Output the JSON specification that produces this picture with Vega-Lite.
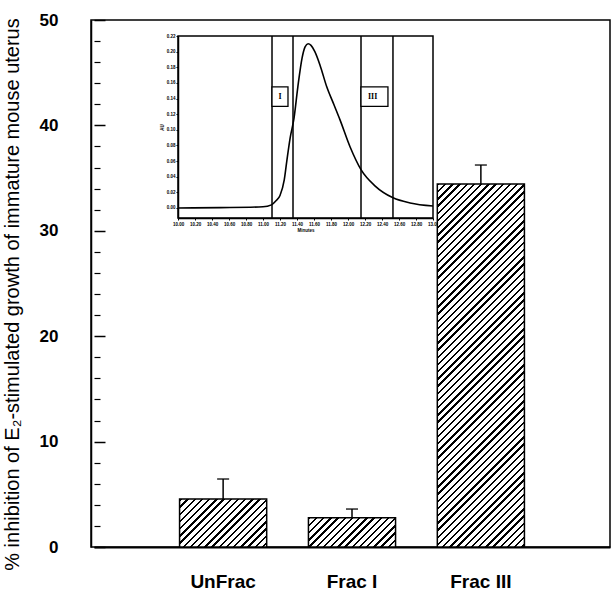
{
  "$schema": "https://vega.github.io/schema/vega-lite/v6.json",
  "width": 519,
  "height": 527,
  "autosize": "none",
  "padding": {"left": 91, "top": 20, "right": 2, "bottom": 51},
  "config": {
    "font": "Liberation Sans",
    "view": {"stroke": "black", "strokeWidth": 1.5},
    "axis": {"grid": false, "domainColor": "black", "tickColor": "black", "labelColor": "black", "titleColor": "black", "labelOverlap": false}
  },
  "layer": [
    {
      "data": {"values": [
        {"group": "UnFrac", "value": 4.55, "upper": 6.45},
        {"group": "Frac I", "value": 2.78, "upper": 3.6},
        {"group": "Frac III", "value": 34.45, "upper": 36.24}
      ]},
      "layer": [
        {
          "transform": [{"filter": "datum.group === 'UnFrac'"}],
          "mark": {"type": "bar", "stroke": "black", "strokeWidth": 1.5, "fill": {"gradient": "linear", "x1": 0, "y1": 0, "x2": 1.2686, "y2": 0.6985, "stops": [
            {"offset":0,"color":"#000"},{"offset":0.016667,"color":"#000"},{"offset":0.016667,"color":"#fff"},
            {"offset":0.05,"color":"#fff"},{"offset":0.05,"color":"#000"},{"offset":0.066667,"color":"#000"},{"offset":0.066667,"color":"#fff"},
            {"offset":0.1,"color":"#fff"},{"offset":0.1,"color":"#000"},{"offset":0.116667,"color":"#000"},{"offset":0.116667,"color":"#fff"},
            {"offset":0.15,"color":"#fff"},{"offset":0.15,"color":"#000"},{"offset":0.166667,"color":"#000"},{"offset":0.166667,"color":"#fff"},
            {"offset":0.2,"color":"#fff"},{"offset":0.2,"color":"#000"},{"offset":0.216667,"color":"#000"},{"offset":0.216667,"color":"#fff"},
            {"offset":0.25,"color":"#fff"},{"offset":0.25,"color":"#000"},{"offset":0.266667,"color":"#000"},{"offset":0.266667,"color":"#fff"},
            {"offset":0.3,"color":"#fff"},{"offset":0.3,"color":"#000"},{"offset":0.316667,"color":"#000"},{"offset":0.316667,"color":"#fff"},
            {"offset":0.35,"color":"#fff"},{"offset":0.35,"color":"#000"},{"offset":0.366667,"color":"#000"},{"offset":0.366667,"color":"#fff"},
            {"offset":0.4,"color":"#fff"},{"offset":0.4,"color":"#000"},{"offset":0.416667,"color":"#000"},{"offset":0.416667,"color":"#fff"},
            {"offset":0.45,"color":"#fff"},{"offset":0.45,"color":"#000"},{"offset":0.466667,"color":"#000"},{"offset":0.466667,"color":"#fff"},
            {"offset":0.5,"color":"#fff"},{"offset":0.5,"color":"#000"},{"offset":0.516667,"color":"#000"},{"offset":0.516667,"color":"#fff"},
            {"offset":0.55,"color":"#fff"},{"offset":0.55,"color":"#000"},{"offset":0.566667,"color":"#000"},{"offset":0.566667,"color":"#fff"},
            {"offset":0.6,"color":"#fff"},{"offset":0.6,"color":"#000"},{"offset":0.616667,"color":"#000"},{"offset":0.616667,"color":"#fff"},
            {"offset":0.65,"color":"#fff"},{"offset":0.65,"color":"#000"},{"offset":0.666667,"color":"#000"},{"offset":0.666667,"color":"#fff"},
            {"offset":0.7,"color":"#fff"},{"offset":0.7,"color":"#000"},{"offset":0.716667,"color":"#000"},{"offset":0.716667,"color":"#fff"},
            {"offset":0.75,"color":"#fff"},{"offset":0.75,"color":"#000"},{"offset":0.766667,"color":"#000"},{"offset":0.766667,"color":"#fff"},
            {"offset":0.8,"color":"#fff"},{"offset":0.8,"color":"#000"},{"offset":0.816667,"color":"#000"},{"offset":0.816667,"color":"#fff"},
            {"offset":0.85,"color":"#fff"},{"offset":0.85,"color":"#000"},{"offset":0.866667,"color":"#000"},{"offset":0.866667,"color":"#fff"},
            {"offset":0.9,"color":"#fff"},{"offset":0.9,"color":"#000"},{"offset":0.916667,"color":"#000"},{"offset":0.916667,"color":"#fff"},
            {"offset":0.95,"color":"#fff"},{"offset":0.95,"color":"#000"},{"offset":0.966667,"color":"#000"},{"offset":0.966667,"color":"#fff"},
            {"offset":1,"color":"#fff"}
          ]}},
          "encoding": {
            "x": {"field": "group", "type": "nominal", "title": null,
              "scale": {"domain": ["UnFrac", "Frac I", "Frac III"], "range": [3, 519], "paddingInner": 0.324, "paddingOuter": 0.664},
              "axis": {"orient": "bottom", "ticks": false, "domainWidth": 2, "labelFontSize": 19, "labelFontWeight": "bold", "labelPadding": 25, "labelAngle": 0}},
            "y": {"field": "value", "type": "quantitative",
              "title": "% inhibition of E₂-stimulated growth of immature mouse uterus",
              "scale": {"domain": [0, 50], "nice": false, "zero": true},
              "axis": {"orient": "left", "values": [0,2,4,6,8,10,12,14,16,18,20,22,24,26,28,30,32,34,36,38,40,42,44,46,48,50], "tickCount": 100, "format": "d",
                "labelExpr": "datum.value % 10 === 0 ? datum.label : ''",
                "ticks": false, "domainWidth": 1.5,
                "grid": true, "gridColor": "black", "gridOpacity": 1,
                "gridWidth": {"condition": {"test": "datum.value % 10 === 0", "value": 1.5}, "value": 1.2},
                "gridDash": {"condition": {"test": "datum.value % 10 === 0", "value": [11, 1200]}, "value": [6, 1200]},
                "labelFontSize": 17, "labelFontWeight": "bold", "labelPadding": 33,
                "titleFontSize": 20, "titleFontWeight": "normal", "titleX": -79, "titleY": 274, "titleAngle": -90, "titleBaseline": "middle", "titleAlign": "center"}}
          }
        },
        {
          "transform": [{"filter": "datum.group === 'Frac I'"}],
          "mark": {"type": "bar", "stroke": "black", "strokeWidth": 1.5, "fill": {"gradient": "linear", "x1": 0, "y1": 0, "x2": 1.4852, "y2": 0.4996, "stops": [
            {"offset":0,"color":"#000"},{"offset":0.016667,"color":"#000"},{"offset":0.016667,"color":"#fff"},
            {"offset":0.05,"color":"#fff"},{"offset":0.05,"color":"#000"},{"offset":0.066667,"color":"#000"},{"offset":0.066667,"color":"#fff"},
            {"offset":0.1,"color":"#fff"},{"offset":0.1,"color":"#000"},{"offset":0.116667,"color":"#000"},{"offset":0.116667,"color":"#fff"},
            {"offset":0.15,"color":"#fff"},{"offset":0.15,"color":"#000"},{"offset":0.166667,"color":"#000"},{"offset":0.166667,"color":"#fff"},
            {"offset":0.2,"color":"#fff"},{"offset":0.2,"color":"#000"},{"offset":0.216667,"color":"#000"},{"offset":0.216667,"color":"#fff"},
            {"offset":0.25,"color":"#fff"},{"offset":0.25,"color":"#000"},{"offset":0.266667,"color":"#000"},{"offset":0.266667,"color":"#fff"},
            {"offset":0.3,"color":"#fff"},{"offset":0.3,"color":"#000"},{"offset":0.316667,"color":"#000"},{"offset":0.316667,"color":"#fff"},
            {"offset":0.35,"color":"#fff"},{"offset":0.35,"color":"#000"},{"offset":0.366667,"color":"#000"},{"offset":0.366667,"color":"#fff"},
            {"offset":0.4,"color":"#fff"},{"offset":0.4,"color":"#000"},{"offset":0.416667,"color":"#000"},{"offset":0.416667,"color":"#fff"},
            {"offset":0.45,"color":"#fff"},{"offset":0.45,"color":"#000"},{"offset":0.466667,"color":"#000"},{"offset":0.466667,"color":"#fff"},
            {"offset":0.5,"color":"#fff"},{"offset":0.5,"color":"#000"},{"offset":0.516667,"color":"#000"},{"offset":0.516667,"color":"#fff"},
            {"offset":0.55,"color":"#fff"},{"offset":0.55,"color":"#000"},{"offset":0.566667,"color":"#000"},{"offset":0.566667,"color":"#fff"},
            {"offset":0.6,"color":"#fff"},{"offset":0.6,"color":"#000"},{"offset":0.616667,"color":"#000"},{"offset":0.616667,"color":"#fff"},
            {"offset":0.65,"color":"#fff"},{"offset":0.65,"color":"#000"},{"offset":0.666667,"color":"#000"},{"offset":0.666667,"color":"#fff"},
            {"offset":0.7,"color":"#fff"},{"offset":0.7,"color":"#000"},{"offset":0.716667,"color":"#000"},{"offset":0.716667,"color":"#fff"},
            {"offset":0.75,"color":"#fff"},{"offset":0.75,"color":"#000"},{"offset":0.766667,"color":"#000"},{"offset":0.766667,"color":"#fff"},
            {"offset":0.8,"color":"#fff"},{"offset":0.8,"color":"#000"},{"offset":0.816667,"color":"#000"},{"offset":0.816667,"color":"#fff"},
            {"offset":0.85,"color":"#fff"},{"offset":0.85,"color":"#000"},{"offset":0.866667,"color":"#000"},{"offset":0.866667,"color":"#fff"},
            {"offset":0.9,"color":"#fff"},{"offset":0.9,"color":"#000"},{"offset":0.916667,"color":"#000"},{"offset":0.916667,"color":"#fff"},
            {"offset":0.95,"color":"#fff"},{"offset":0.95,"color":"#000"},{"offset":0.966667,"color":"#000"},{"offset":0.966667,"color":"#fff"},
            {"offset":1,"color":"#fff"}
          ]}},
          "encoding": {
            "x": {"field": "group", "type": "nominal", "title": null},
            "y": {"field": "value", "type": "quantitative"}
          }
        },
        {
          "transform": [{"filter": "datum.group === 'Frac III'"}],
          "mark": {"type": "bar", "stroke": "black", "strokeWidth": 1.5, "fill": {"gradient": "linear", "x1": 0, "y1": 0, "x2": 0.28786, "y2": 1.2, "stops": [
            {"offset":0,"color":"#000"},{"offset":0.005208,"color":"#000"},{"offset":0.005208,"color":"#fff"},
            {"offset":0.015625,"color":"#fff"},{"offset":0.015625,"color":"#000"},{"offset":0.020833,"color":"#000"},{"offset":0.020833,"color":"#fff"},
            {"offset":0.03125,"color":"#fff"},{"offset":0.03125,"color":"#000"},{"offset":0.036458,"color":"#000"},{"offset":0.036458,"color":"#fff"},
            {"offset":0.046875,"color":"#fff"},{"offset":0.046875,"color":"#000"},{"offset":0.052083,"color":"#000"},{"offset":0.052083,"color":"#fff"},
            {"offset":0.0625,"color":"#fff"},{"offset":0.0625,"color":"#000"},{"offset":0.067708,"color":"#000"},{"offset":0.067708,"color":"#fff"},
            {"offset":0.078125,"color":"#fff"},{"offset":0.078125,"color":"#000"},{"offset":0.083333,"color":"#000"},{"offset":0.083333,"color":"#fff"},
            {"offset":0.09375,"color":"#fff"},{"offset":0.09375,"color":"#000"},{"offset":0.098958,"color":"#000"},{"offset":0.098958,"color":"#fff"},
            {"offset":0.109375,"color":"#fff"},{"offset":0.109375,"color":"#000"},{"offset":0.114583,"color":"#000"},{"offset":0.114583,"color":"#fff"},
            {"offset":0.125,"color":"#fff"},{"offset":0.125,"color":"#000"},{"offset":0.130208,"color":"#000"},{"offset":0.130208,"color":"#fff"},
            {"offset":0.140625,"color":"#fff"},{"offset":0.140625,"color":"#000"},{"offset":0.145833,"color":"#000"},{"offset":0.145833,"color":"#fff"},
            {"offset":0.15625,"color":"#fff"},{"offset":0.15625,"color":"#000"},{"offset":0.161458,"color":"#000"},{"offset":0.161458,"color":"#fff"},
            {"offset":0.171875,"color":"#fff"},{"offset":0.171875,"color":"#000"},{"offset":0.177083,"color":"#000"},{"offset":0.177083,"color":"#fff"},
            {"offset":0.1875,"color":"#fff"},{"offset":0.1875,"color":"#000"},{"offset":0.192708,"color":"#000"},{"offset":0.192708,"color":"#fff"},
            {"offset":0.203125,"color":"#fff"},{"offset":0.203125,"color":"#000"},{"offset":0.208333,"color":"#000"},{"offset":0.208333,"color":"#fff"},
            {"offset":0.21875,"color":"#fff"},{"offset":0.21875,"color":"#000"},{"offset":0.223958,"color":"#000"},{"offset":0.223958,"color":"#fff"},
            {"offset":0.234375,"color":"#fff"},{"offset":0.234375,"color":"#000"},{"offset":0.239583,"color":"#000"},{"offset":0.239583,"color":"#fff"},
            {"offset":0.25,"color":"#fff"},{"offset":0.25,"color":"#000"},{"offset":0.255208,"color":"#000"},{"offset":0.255208,"color":"#fff"},
            {"offset":0.265625,"color":"#fff"},{"offset":0.265625,"color":"#000"},{"offset":0.270833,"color":"#000"},{"offset":0.270833,"color":"#fff"},
            {"offset":0.28125,"color":"#fff"},{"offset":0.28125,"color":"#000"},{"offset":0.286458,"color":"#000"},{"offset":0.286458,"color":"#fff"},
            {"offset":0.296875,"color":"#fff"},{"offset":0.296875,"color":"#000"},{"offset":0.302083,"color":"#000"},{"offset":0.302083,"color":"#fff"},
            {"offset":0.3125,"color":"#fff"},{"offset":0.3125,"color":"#000"},{"offset":0.317708,"color":"#000"},{"offset":0.317708,"color":"#fff"},
            {"offset":0.328125,"color":"#fff"},{"offset":0.328125,"color":"#000"},{"offset":0.333333,"color":"#000"},{"offset":0.333333,"color":"#fff"},
            {"offset":0.34375,"color":"#fff"},{"offset":0.34375,"color":"#000"},{"offset":0.348958,"color":"#000"},{"offset":0.348958,"color":"#fff"},
            {"offset":0.359375,"color":"#fff"},{"offset":0.359375,"color":"#000"},{"offset":0.364583,"color":"#000"},{"offset":0.364583,"color":"#fff"},
            {"offset":0.375,"color":"#fff"},{"offset":0.375,"color":"#000"},{"offset":0.380208,"color":"#000"},{"offset":0.380208,"color":"#fff"},
            {"offset":0.390625,"color":"#fff"},{"offset":0.390625,"color":"#000"},{"offset":0.395833,"color":"#000"},{"offset":0.395833,"color":"#fff"},
            {"offset":0.40625,"color":"#fff"},{"offset":0.40625,"color":"#000"},{"offset":0.411458,"color":"#000"},{"offset":0.411458,"color":"#fff"},
            {"offset":0.421875,"color":"#fff"},{"offset":0.421875,"color":"#000"},{"offset":0.427083,"color":"#000"},{"offset":0.427083,"color":"#fff"},
            {"offset":0.4375,"color":"#fff"},{"offset":0.4375,"color":"#000"},{"offset":0.442708,"color":"#000"},{"offset":0.442708,"color":"#fff"},
            {"offset":0.453125,"color":"#fff"},{"offset":0.453125,"color":"#000"},{"offset":0.458333,"color":"#000"},{"offset":0.458333,"color":"#fff"},
            {"offset":0.46875,"color":"#fff"},{"offset":0.46875,"color":"#000"},{"offset":0.473958,"color":"#000"},{"offset":0.473958,"color":"#fff"},
            {"offset":0.484375,"color":"#fff"},{"offset":0.484375,"color":"#000"},{"offset":0.489583,"color":"#000"},{"offset":0.489583,"color":"#fff"},
            {"offset":0.5,"color":"#fff"},{"offset":0.5,"color":"#000"},{"offset":0.505208,"color":"#000"},{"offset":0.505208,"color":"#fff"},
            {"offset":0.515625,"color":"#fff"},{"offset":0.515625,"color":"#000"},{"offset":0.520833,"color":"#000"},{"offset":0.520833,"color":"#fff"},
            {"offset":0.53125,"color":"#fff"},{"offset":0.53125,"color":"#000"},{"offset":0.536458,"color":"#000"},{"offset":0.536458,"color":"#fff"},
            {"offset":0.546875,"color":"#fff"},{"offset":0.546875,"color":"#000"},{"offset":0.552083,"color":"#000"},{"offset":0.552083,"color":"#fff"},
            {"offset":0.5625,"color":"#fff"},{"offset":0.5625,"color":"#000"},{"offset":0.567708,"color":"#000"},{"offset":0.567708,"color":"#fff"},
            {"offset":0.578125,"color":"#fff"},{"offset":0.578125,"color":"#000"},{"offset":0.583333,"color":"#000"},{"offset":0.583333,"color":"#fff"},
            {"offset":0.59375,"color":"#fff"},{"offset":0.59375,"color":"#000"},{"offset":0.598958,"color":"#000"},{"offset":0.598958,"color":"#fff"},
            {"offset":0.609375,"color":"#fff"},{"offset":0.609375,"color":"#000"},{"offset":0.614583,"color":"#000"},{"offset":0.614583,"color":"#fff"},
            {"offset":0.625,"color":"#fff"},{"offset":0.625,"color":"#000"},{"offset":0.630208,"color":"#000"},{"offset":0.630208,"color":"#fff"},
            {"offset":0.640625,"color":"#fff"},{"offset":0.640625,"color":"#000"},{"offset":0.645833,"color":"#000"},{"offset":0.645833,"color":"#fff"},
            {"offset":0.65625,"color":"#fff"},{"offset":0.65625,"color":"#000"},{"offset":0.661458,"color":"#000"},{"offset":0.661458,"color":"#fff"},
            {"offset":0.671875,"color":"#fff"},{"offset":0.671875,"color":"#000"},{"offset":0.677083,"color":"#000"},{"offset":0.677083,"color":"#fff"},
            {"offset":0.6875,"color":"#fff"},{"offset":0.6875,"color":"#000"},{"offset":0.692708,"color":"#000"},{"offset":0.692708,"color":"#fff"},
            {"offset":0.703125,"color":"#fff"},{"offset":0.703125,"color":"#000"},{"offset":0.708333,"color":"#000"},{"offset":0.708333,"color":"#fff"},
            {"offset":0.71875,"color":"#fff"},{"offset":0.71875,"color":"#000"},{"offset":0.723958,"color":"#000"},{"offset":0.723958,"color":"#fff"},
            {"offset":0.734375,"color":"#fff"},{"offset":0.734375,"color":"#000"},{"offset":0.739583,"color":"#000"},{"offset":0.739583,"color":"#fff"},
            {"offset":0.75,"color":"#fff"},{"offset":0.75,"color":"#000"},{"offset":0.755208,"color":"#000"},{"offset":0.755208,"color":"#fff"},
            {"offset":0.765625,"color":"#fff"},{"offset":0.765625,"color":"#000"},{"offset":0.770833,"color":"#000"},{"offset":0.770833,"color":"#fff"},
            {"offset":0.78125,"color":"#fff"},{"offset":0.78125,"color":"#000"},{"offset":0.786458,"color":"#000"},{"offset":0.786458,"color":"#fff"},
            {"offset":0.796875,"color":"#fff"},{"offset":0.796875,"color":"#000"},{"offset":0.802083,"color":"#000"},{"offset":0.802083,"color":"#fff"},
            {"offset":0.8125,"color":"#fff"},{"offset":0.8125,"color":"#000"},{"offset":0.817708,"color":"#000"},{"offset":0.817708,"color":"#fff"},
            {"offset":0.828125,"color":"#fff"},{"offset":0.828125,"color":"#000"},{"offset":0.833333,"color":"#000"},{"offset":0.833333,"color":"#fff"},
            {"offset":0.84375,"color":"#fff"},{"offset":0.84375,"color":"#000"},{"offset":0.848958,"color":"#000"},{"offset":0.848958,"color":"#fff"},
            {"offset":0.859375,"color":"#fff"},{"offset":0.859375,"color":"#000"},{"offset":0.864583,"color":"#000"},{"offset":0.864583,"color":"#fff"},
            {"offset":0.875,"color":"#fff"},{"offset":0.875,"color":"#000"},{"offset":0.880208,"color":"#000"},{"offset":0.880208,"color":"#fff"},
            {"offset":0.890625,"color":"#fff"},{"offset":0.890625,"color":"#000"},{"offset":0.895833,"color":"#000"},{"offset":0.895833,"color":"#fff"},
            {"offset":0.90625,"color":"#fff"},{"offset":0.90625,"color":"#000"},{"offset":0.911458,"color":"#000"},{"offset":0.911458,"color":"#fff"},
            {"offset":0.921875,"color":"#fff"},{"offset":0.921875,"color":"#000"},{"offset":0.927083,"color":"#000"},{"offset":0.927083,"color":"#fff"},
            {"offset":0.9375,"color":"#fff"},{"offset":0.9375,"color":"#000"},{"offset":0.942708,"color":"#000"},{"offset":0.942708,"color":"#fff"},
            {"offset":0.953125,"color":"#fff"},{"offset":0.953125,"color":"#000"},{"offset":0.958333,"color":"#000"},{"offset":0.958333,"color":"#fff"},
            {"offset":0.96875,"color":"#fff"},{"offset":0.96875,"color":"#000"},{"offset":0.973958,"color":"#000"},{"offset":0.973958,"color":"#fff"},
            {"offset":0.984375,"color":"#fff"},{"offset":0.984375,"color":"#000"},{"offset":0.989583,"color":"#000"},{"offset":0.989583,"color":"#fff"},
            {"offset":1,"color":"#fff"}
          ]}},
          "encoding": {
            "x": {"field": "group", "type": "nominal", "title": null},
            "y": {"field": "value", "type": "quantitative"}
          }
        },
        {
          "mark": {"type": "rule", "strokeWidth": 1.5, "color": "black"},
          "encoding": {
            "x": {"field": "group", "type": "nominal", "title": null},
            "y": {"field": "value", "type": "quantitative"},
            "y2": {"field": "upper"}
          }
        },
        {
          "mark": {"type": "tick", "size": 12, "thickness": 1.8, "color": "black"},
          "encoding": {
            "x": {"field": "group", "type": "nominal", "title": null},
            "y": {"field": "upper", "type": "quantitative"}
          }
        }
      ]
    },
    {
      "layer": [
        {
          "data": {"values": [
            {"t": 10.0, "au": 0.0},
            {"t": 10.5, "au": 0.0005},
            {"t": 11.0, "au": 0.0015},
            {"t": 11.1, "au": 0.004},
            {"t": 11.15, "au": 0.009},
            {"t": 11.2, "au": 0.016},
            {"t": 11.25, "au": 0.036},
            {"t": 11.28, "au": 0.06},
            {"t": 11.32, "au": 0.09},
            {"t": 11.365, "au": 0.115},
            {"t": 11.41, "au": 0.155},
            {"t": 11.46, "au": 0.192},
            {"t": 11.495, "au": 0.206},
            {"t": 11.53, "au": 0.21},
            {"t": 11.565, "au": 0.208},
            {"t": 11.61, "au": 0.2},
            {"t": 11.67, "au": 0.183},
            {"t": 11.75, "au": 0.155},
            {"t": 11.835, "au": 0.132},
            {"t": 11.905, "au": 0.113},
            {"t": 12.025, "au": 0.078},
            {"t": 12.153, "au": 0.049},
            {"t": 12.32, "au": 0.028},
            {"t": 12.53, "au": 0.013},
            {"t": 12.73, "au": 0.0065},
            {"t": 13.0, "au": 0.0026}
          ]},
          "mark": {"type": "line", "color": "black", "strokeWidth": 1.6, "interpolate": "monotone"},
          "encoding": {
            "x": {"field": "t", "type": "quantitative", "title": "Minutes",
              "scale": {"domain": [10, 13], "range": [87, 342], "nice": false, "zero": false},
              "axis": {"orient": "bottom", "offset": -329, "values": [10,10.4,10.8,11.2,11.6,12,12.4,12.8], "tickCount": 100, "format": ".2f",
                "tickSize": 2, "domainWidth": 1.5, "labelFontSize": 4.5, "labelFontWeight": "bold", "labelPadding": 1, "labelOverlap": false, "labelFlush": false,
                "titleFontSize": 4.5, "titleFontWeight": "bold", "titlePadding": 2}},
            "y": {"field": "au", "type": "quantitative", "title": "AU",
              "scale": {"domain": [-0.0128, 0.22], "range": [198, 16], "nice": false, "zero": false},
              "axis": {"orient": "left", "offset": -87, "values": [0,0.02,0.04,0.06,0.08,0.1,0.12,0.14,0.16,0.18,0.2,0.22], "tickCount": 100, "format": ".2f",
                "tickSize": 2, "domainWidth": 1.5, "labelFontSize": 4.5, "labelFontWeight": "bold", "labelPadding": 1, "labelOverlap": false, "labelFlush": false,
                "titleFontSize": 4.5, "titleFontWeight": "bold", "titlePadding": 2}}
          }
        },
        {
          "data": {"values": [{"t": 11.106}, {"t": 11.353}, {"t": 12.153}, {"t": 12.529}]},
          "mark": {"type": "rule", "color": "black", "strokeWidth": 1.5},
          "encoding": {
            "x": {"field": "t", "type": "quantitative",
              "axis": {"orient": "bottom", "offset": -329, "values": [10.2,10.6,11,11.4,11.8,12.2,12.6,13], "tickCount": 100, "format": ".2f", "domain": false, "title": null,
                "tickSize": 2, "labelFontSize": 4.5, "labelFontWeight": "bold", "labelPadding": 1, "labelOverlap": false, "labelFlush": false}},
            "y": {"datum": -0.0128, "type": "quantitative", "title": "AU"},
            "y2": {"datum": 0.22}
          }
        },
        {
          "data": {"values": [
            {"label": "I", "x1": 11.106, "x2": 11.294, "xm": 11.2, "y1": 0.13, "y2": 0.155, "ym": 0.1425},
            {"label": "III", "x1": 12.153, "x2": 12.47, "xm": 12.29, "y1": 0.13, "y2": 0.155, "ym": 0.1425}
          ]},
          "layer": [
            {
              "mark": {"type": "rect", "fill": "white", "stroke": "black", "strokeWidth": 1.3},
              "encoding": {
                "x": {"field": "x1", "type": "quantitative", "axis": null},
                "x2": {"field": "x2"},
                "y": {"field": "y1", "type": "quantitative", "title": "AU"},
                "y2": {"field": "y2"}
              }
            },
            {
              "mark": {"type": "text", "fontSize": 8, "fontWeight": "bold", "font": "Liberation Serif", "color": "black"},
              "encoding": {
                "x": {"field": "xm", "type": "quantitative", "axis": null},
                "y": {"field": "ym", "type": "quantitative", "title": "AU"},
                "text": {"field": "label"}
              }
            }
          ]
        },
        {
          "data": {"values": [{"frame": "inset"}]},
          "mark": {"type": "rect", "fill": null, "fillOpacity": 0, "stroke": "black", "strokeWidth": 1.5},
          "encoding": {
            "x": {"datum": 10, "type": "quantitative", "axis": null},
            "x2": {"datum": 13},
            "y": {"datum": -0.0128, "type": "quantitative", "title": "AU"},
            "y2": {"datum": 0.22}
          }
        }
      ],
      "resolve": {"axis": {"x": "independent"}}
    }
  ],
  "resolve": {"scale": {"x": "independent", "y": "independent"}, "axis": {"x": "independent", "y": "independent"}}
}
